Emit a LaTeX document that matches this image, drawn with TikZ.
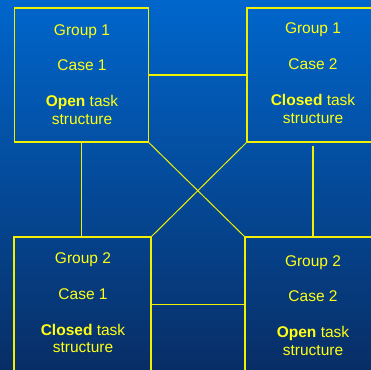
\documentclass[tikz,border=0pt]{standalone}
\usepackage{fontspec}
\setmainfont{Liberation Sans}
\definecolor{bgtop}{RGB}{0,102,204}
\definecolor{bgbot}{RGB}{8,46,102}
\definecolor{ylw}{RGB}{240,240,0}
\definecolor{txt}{RGB}{255,255,20}
\begin{document}
\begin{tikzpicture}[x=1pt,y=-1pt,
  box/.style={draw=ylw, line width=1.4pt, inner sep=0pt},
  lbl/.style={text=txt, anchor=base, inner sep=0pt, font=\fontsize{15.5}{18}\selectfont},
  link/.style={draw=ylw, line width=1.4pt},
  diag/.style={draw=ylw, line width=1pt}]
\useasboundingbox (0,0) rectangle (371,369);
\clip (0,0) rectangle (371,369);
\shade[top color=bgtop, bottom color=bgbot] (0,0) rectangle (371,369);
% boxes
\node[box, minimum width=133.5pt, minimum height=134pt] (A) at (81.5,75) {};
\node[box, minimum width=132pt, minimum height=134pt] (B) at (313,75) {};
\node[box, minimum width=137pt, minimum height=143pt] (C) at (82.5,308.5) {};
\node[box, minimum width=136pt, minimum height=143pt] (D) at (313,308.5) {};
% connectors
\draw[link] (A.east) -- (B.west);
\draw[link] ([yshift=-68pt]C.north east) -- ([yshift=-68pt]D.north west);
\draw[link] (A.south) -- (A.south |- C.north);
\draw[link, shorten <=3pt] (B.south) -- (B.south |- D.north);
\draw[diag] (A.south east) -- (D.north west);
\draw[diag] (B.south west) -- (C.north east);
% texts A
\node[lbl] (a1) at (82,35) {Group 1};
\node[lbl] (a2) at (82,70) {Case 1};
\node[lbl] (a3) at (82,106.7) {\textbf{Open} task};
\node[lbl] (a4) at (82,124.3) {structure};
% texts B
\node[lbl] (b1) at (313,33.5) {Group 1};
\node[lbl] (b2) at (313,69.5) {Case 2};
\node[lbl] (b3) at (313,105.5) {\textbf{Closed} task};
\node[lbl] (b4) at (313,123) {structure};
% texts C
\node[lbl] (c1) at (83,263) {Group 2};
\node[lbl] (c2) at (83,299) {Case 1};
\node[lbl] (c3) at (83,335.5) {\textbf{Closed} task};
\node[lbl] (c4) at (83,352.5) {structure};
% texts D
\node[lbl] (d1) at (313,266) {Group 2};
\node[lbl] (d2) at (313,301.5) {Case 2};
\node[lbl] (d3) at (313,337.5) {\textbf{Open} task};
\node[lbl] (d4) at (313,355.5) {structure};
\end{tikzpicture}
\end{document}
